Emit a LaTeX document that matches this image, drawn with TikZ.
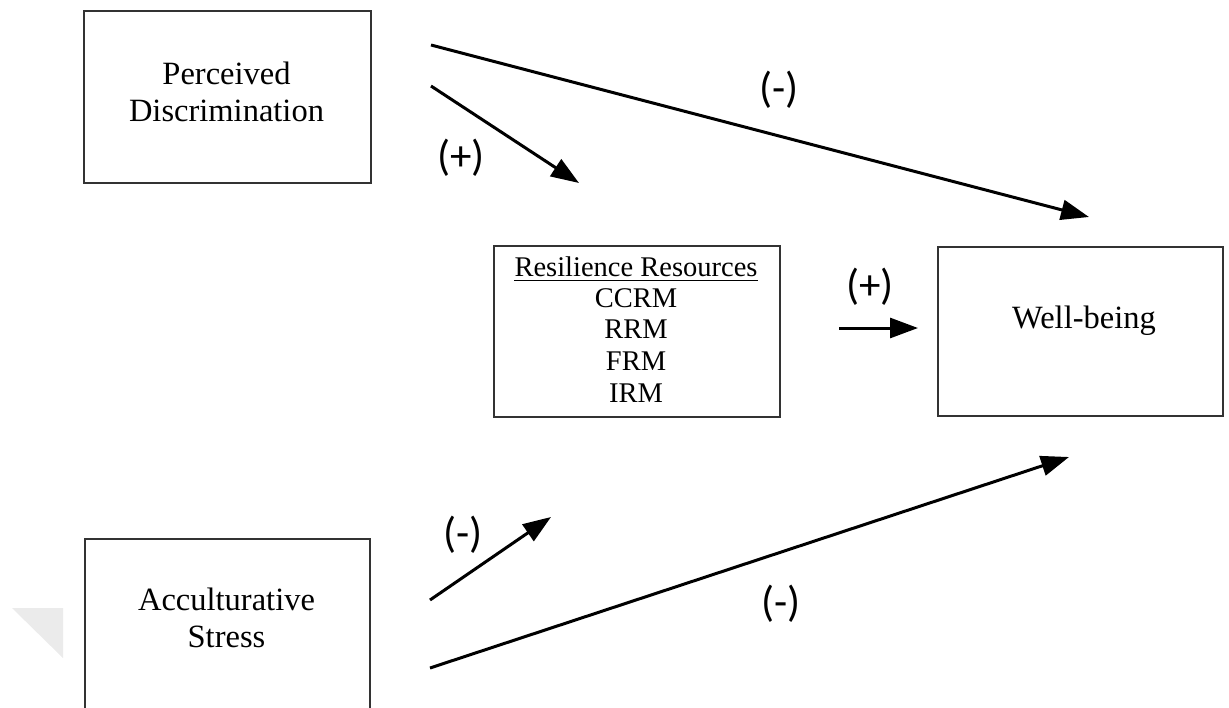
\documentclass[tikz,border=0pt]{standalone}
\usepackage{fontspec}
\setmainfont{Liberation Serif}
\newfontfamily\lblfont{Carlito}
\usetikzlibrary{arrows.meta}
\begin{document}
\begin{tikzpicture}[x=1pt,y=-1pt,
  box/.style={draw=black!80, line width=1.5pt, inner sep=0pt, anchor=north west},
  bigtext/.style={font=\fontsize{32.5}{37}\selectfont, inner sep=0pt, anchor=base},
  smalltext/.style={font=\fontsize{28.5}{31}\selectfont, inner sep=0pt, anchor=base},
  conn/.style={line width=3pt, -{Triangle[length=28pt,width=20pt]}},
  sign/.style={font=\lblfont\fontsize{43}{43}\selectfont, inner sep=0pt}]
\useasboundingbox (0,0) rectangle (1229,707);
% faint watermark corner
\fill[black!8] (12,608) -- (63,608) -- (63,658) -- cycle;

% boxes
\node[box, minimum width=287pt, minimum height=172pt] (pd) at (83,10) {};
\node[box, minimum width=285pt, minimum height=200pt] (as) at (84,538) {};
\node[box, minimum width=286pt, minimum height=171pt] (rr) at (493,245) {};
\node[box, minimum width=285pt, minimum height=169pt] (wb) at (937,246) {};

% box texts
\node[bigtext] (pd1) at (226.5,84) {Perceived};
\node[bigtext] (pd2) at (226.5,121) {Discrimination};
\node[bigtext] (as1) at (226.5,610) {Acculturative};
\node[bigtext] (as2) at (226.5,647) {Stress};
\node[bigtext] (wb1) at (1084,328) {Well-being};
\node[smalltext] (rr0) at (636,276) {Resilience Resources};
\draw[line width=1pt] ([yshift=-4pt]rr0.base west) -- ([yshift=-4pt]rr0.base east);
\node[smalltext] (rr1) at (636,307) {CCRM};
\node[smalltext] (rr2) at (636,338) {RRM};
\node[smalltext] (rr3) at (636,370) {FRM};
\node[smalltext] (rr4) at (636,402) {IRM};

% connector end points
\coordinate (pdAs) at (431,45);
\coordinate (pdAe) at (1089,217);
\coordinate (pdBs) at (431,86);
\coordinate (pdBe) at (579,183);
\coordinate (rws) at (839,328);
\coordinate (rwe) at (918,328);
\coordinate (asAs) at (430,600);
\coordinate (asAe) at (551,517);
\coordinate (asBs) at (430,668);
\coordinate (asBe) at (1069,457);

\draw[conn] (pdAs) -- (pdAe);
\draw[conn] (pdBs) -- (pdBe);
\draw[conn] (rws) -- (rwe);
\draw[conn] (asAs) -- (asAe);
\draw[conn] (asBs) -- (asBe);

% signs
\node[sign] (s1) at (779,90) {(-)};
\node[sign] (s2) at (461,158) {(+)};
\node[sign] (s3) at (870,287) {(+)};
\node[sign] (s4) at (463,535) {(-)};
\node[sign] (s5) at (781,604) {(-)};
\end{tikzpicture}
\end{document}
